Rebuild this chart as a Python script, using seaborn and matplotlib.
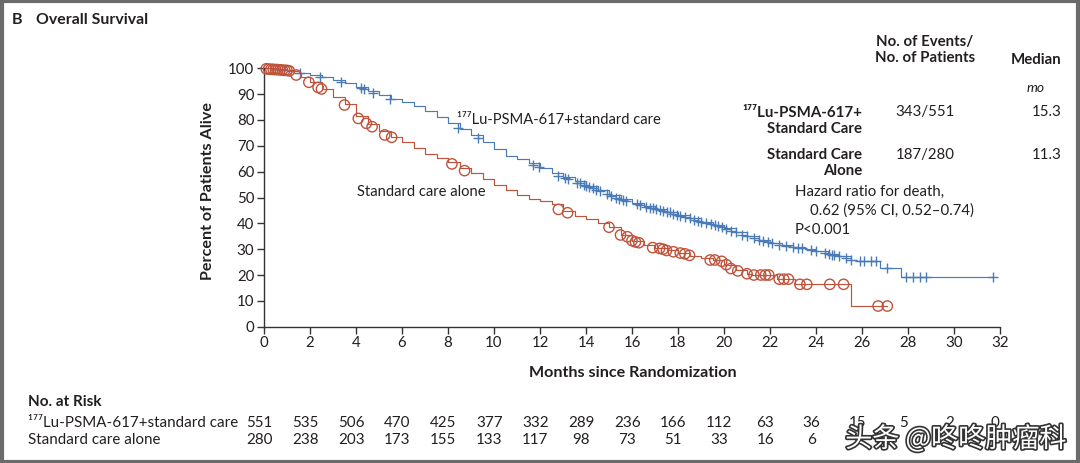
import numpy as np
import pandas as pd
import matplotlib
matplotlib.use("Agg")
import matplotlib.pyplot as plt
import matplotlib.transforms as mtransforms
import matplotlib.patheffects as pe
from matplotlib.patches import Rectangle
import seaborn as sns

# ---------------- data ----------------
lu_t = [0, 0.3, 0.6, 1.0, 1.5, 2.0, 2.5, 3.0, 3.5, 4.0, 4.5, 5.0, 5.5, 6.0, 6.5, 7.0, 7.5,
        8.0, 8.5, 9.0, 9.5, 10.0, 10.5, 11.0, 11.5, 12.0, 12.5, 13.0, 13.5, 14.0, 14.5, 15.0,
        15.5, 16.0, 16.5, 17.0, 17.5, 18.0, 18.5, 19.0, 19.5, 20.0, 20.5, 21.0, 21.5, 22.0,
        22.5, 23.0, 23.5, 24.0, 24.5, 25.0, 25.5, 25.8, 26.8, 27.7, 31.7]
lu_s = [100, 99.8, 99.5, 99.0, 98.2, 97.5, 96.6, 95.5, 94.3, 92.8, 91.3, 89.8, 88.2, 86.8, 85.4,
        83.6, 81.2, 78.8, 76.6, 74.3, 71.6, 68.8, 66.2, 65.0, 63.4, 61.5, 59.6, 57.8, 56.3, 54.5,
        52.8, 51.0, 49.4, 48.0, 46.6, 45.6, 44.5, 43.3, 42.0, 40.6, 39.5, 38.1, 36.6, 35.0, 33.7,
        32.4, 31.6, 30.9, 30.2, 29.4, 28.3, 27.2, 26.0, 25.6, 22.9, 19.4, 19.4]

sc_t = [0, 0.5, 1.0, 1.3, 1.6, 2.0, 2.5, 3.0, 3.5, 4.0, 4.5, 5.0, 5.5, 6.0, 6.5, 7.0, 7.5, 8.0,
        8.5, 9.0, 9.5, 10.0, 10.5, 11.0, 11.5, 12.0, 12.5, 13.0, 13.5, 14.0, 14.5, 15.0, 15.5,
        16.0, 16.5, 17.0, 17.5, 18.0, 18.5, 19.0, 19.5, 20.0, 20.5, 21.0, 21.2, 22.3, 23.1, 25.5, 27.1]
sc_s = [100, 99.6, 99.2, 98.3, 96.5, 94.6, 92.0, 88.8, 86.0, 81.5, 78.5, 75.8, 73.3, 71.4, 69.0,
        67.0, 65.3, 63.6, 61.5, 59.3, 57.0, 55.0, 53.0, 51.0, 49.6, 48.8, 47.5, 44.8, 42.8, 41.5,
        40.0, 38.5, 35.5, 33.2, 31.6, 30.5, 29.6, 28.6, 27.4, 26.6, 25.8, 24.0, 21.8, 20.5, 20.0,
        18.4, 16.4, 8.0, 8.0]

lu_cens_t = [1.55, 2.42, 3.36, 4.2, 4.35, 4.74, 5.46, 8.43, 9.3, 11.7, 11.95, 12.8, 13.1, 13.2,
             13.6, 13.75, 13.9, 14.0, 14.15, 14.3, 14.45, 14.6, 14.9, 15.1, 15.3, 15.45, 15.6,
             15.75, 16.2, 16.35, 16.6, 16.8, 16.9, 17.05, 17.2, 17.35, 17.5, 17.65, 17.8, 17.95,
             18.1, 18.3, 18.5, 18.7, 18.85, 19.0, 19.2, 19.45, 19.6, 19.75, 19.9, 20.1, 20.3,
             20.5, 20.8, 21.0, 21.3, 21.5, 21.7, 21.9, 22.1, 22.4, 22.7, 23.0, 23.2, 23.4, 23.8,
             24.0, 24.4, 24.55, 24.7, 24.8, 25.0, 25.3, 25.5, 25.9, 26.1, 26.4, 26.6, 27.1, 27.9,
             28.2, 28.5, 28.8, 31.7]
lu_cens_s = [98.1, 96.8, 94.6, 92.2, 91.9, 90.6, 88.0, 76.8, 72.9, 62.6, 61.7, 58.3, 57.4, 57.2,
             55.8, 55.5, 55.0, 54.5, 54.0, 53.6, 53.0, 52.6, 51.3, 50.6, 50.0, 49.4, 49.2, 48.6,
             47.4, 47.0, 46.4, 46.0, 45.8, 45.5, 45.2, 44.8, 44.5, 44.2, 43.8, 43.4, 43.0, 42.5,
             42.0, 41.4, 41.0, 40.6, 40.2, 39.6, 39.3, 38.8, 38.4, 37.8, 37.2, 36.6, 35.6, 35.0,
             34.2, 33.7, 33.2, 32.6, 32.2, 31.7, 31.3, 30.9, 30.6, 30.3, 29.7, 29.4, 28.5, 28.2,
             27.9, 27.7, 27.2, 26.5, 26.0, 25.6, 25.6, 25.6, 25.6, 22.9, 19.4, 19.4, 19.4, 19.4, 19.4]

sc_cens_t = [0.1, 0.2, 0.3, 0.4, 0.5, 0.6, 0.7, 0.8, 0.9, 1.0, 1.1, 1.4, 1.95, 2.35, 2.5, 3.5,
             4.1, 4.45, 4.7, 5.25, 5.55, 8.17, 8.72, 12.8, 13.2, 15.0, 15.5, 15.8, 16.0, 16.15,
             16.3, 16.9, 17.2, 17.35, 17.5, 17.8, 18.1, 18.3, 18.5, 19.4, 19.6, 19.9, 20.1, 20.3,
             20.6, 21.0, 21.3, 21.6, 21.8, 21.95, 22.4, 22.6, 22.8, 23.3, 23.6, 24.6, 25.2, 26.7, 27.1]
sc_cens_s = [99.8, 99.7, 99.6, 99.6, 99.5, 99.5, 99.4, 99.3, 99.2, 99.2, 99.0, 97.4, 94.6, 92.6,
             92.0, 85.8, 80.6, 78.7, 77.4, 74.2, 73.3, 63.0, 60.4, 45.4, 44.1, 38.5, 35.5, 34.8,
             33.3, 32.8, 32.5, 30.6, 30.3, 30.0, 29.5, 29.0, 28.5, 28.2, 27.6, 25.8, 25.8, 25.3,
             24.0, 22.5, 21.6, 20.5, 20.0, 20.0, 20.0, 20.0, 18.4, 18.4, 18.4, 16.4, 16.4, 16.4,
             16.4, 8.0, 8.0]

risk_months = [0, 2, 4, 6, 8, 10, 12, 14, 16, 18, 20, 22, 24, 26, 28, 30, 32]
risk_lu = [551, 535, 506, 470, 425, 377, 332, 289, 236, 166, 112, 63, 36, 15, 5, 2, 0]
risk_sc = [280, 238, 203, 173, 155, 133, 117, 98, 73, 51, 33, 16, 6]

x_ticks = list(range(0, 33, 2))
y_ticks = list(range(0, 101, 10))

# ---------------- style ----------------
sns.set_theme(style="white")
FONT = ["Lato", "DejaVu Sans"]
plt.rcParams["font.family"] = FONT
TXT = "#231f20"
BLUE = "#4a7bb7"
RED = "#c0533b"

W, H = 1080, 463
fig = plt.figure(figsize=(W / 100, H / 100), dpi=100)
fig.patch.set_facecolor("white")

def fx(px):
    return px / W

def fy(py):
    return 1 - py / H

ax = fig.add_axes([fx(264), fy(326.7), fx(1000) - fx(264), fy(68.3) - fy(326.7)])
ax.set_facecolor("white")

lu_df = pd.DataFrame({"t": lu_t, "s": lu_s})
sc_df = pd.DataFrame({"t": sc_t, "s": sc_s})
sns.lineplot(data=lu_df, x="t", y="s", ax=ax, color=BLUE, lw=0.85,
             drawstyle="steps-post", estimator=None, sort=False, clip_on=False)
sns.lineplot(data=sc_df, x="t", y="s", ax=ax, color=RED, lw=0.85,
             drawstyle="steps-post", estimator=None, sort=False, clip_on=False)

lu_c = pd.DataFrame({"t": lu_cens_t, "s": lu_cens_s})
sc_c = pd.DataFrame({"t": sc_cens_t, "s": sc_cens_s})
sns.scatterplot(data=lu_c, x="t", y="s", ax=ax, marker="+", s=55, color=BLUE,
                linewidth=1.0, clip_on=False, zorder=3)
sns.scatterplot(data=sc_c, x="t", y="s", ax=ax, marker="o", s=55, facecolors="none",
                edgecolor=RED, linewidth=1.0, clip_on=False, zorder=3)

ax.set_xlim(0, 32)
ax.set_ylim(0, 100)
ax.set_xticks(x_ticks)
ax.set_yticks(y_ticks)
ax.set_xticklabels([str(v) for v in x_ticks])
ax.set_yticklabels([str(v) for v in y_ticks])
for side in ["top", "right"]:
    ax.spines[side].set_visible(False)
for side in ["left", "bottom"]:
    ax.spines[side].set_color("#333333")
    ax.spines[side].set_linewidth(1.0)
ax.tick_params(axis="both", which="major", direction="out", length=5, width=1.0,
               color="#333333", labelsize=10.8, labelcolor=TXT, pad=2,
               left=True, bottom=True)
ax.set_xlabel("")
ax.set_ylabel("")
ax.grid(False)

fig.text(fx(633), fy(373), "Months since Randomization", ha="center", va="center",
         fontsize=11.6, fontweight="bold", color=TXT)
fig.text(fx(208), fy(191), "Percent of Patients Alive", ha="center", va="center",
         rotation=90, fontsize=11.6, fontweight="bold", color=TXT)

# title
fig.text(fx(12), fy(20), "B", ha="left", va="center", fontsize=11.5, fontweight="bold", color=TXT)
fig.text(fx(36), fy(20), "Overall Survival", ha="left", va="center", fontsize=11.4,
         fontweight="bold", color=TXT)

# curve labels
fig.text(fx(457), fy(120), "\u00b9\u2077\u2077Lu-PSMA-617+standard care", ha="left", va="center",
         fontsize=10.6, color=TXT)
fig.text(fx(357), fy(192), "Standard care alone", ha="left", va="center",
         fontsize=10.6, color=TXT)

# legend table
fig.text(fx(925), fy(50), "No. of Events/\nNo. of Patients", ha="center", va="center",
         fontsize=10.8, fontweight="bold", color=TXT, linespacing=1.15)
fig.text(fx(1036), fy(60), "Median", ha="center", va="center", fontsize=10.8,
         fontweight="bold", color=TXT)
fig.text(fx(1036), fy(88), "mo", ha="center", va="center", fontsize=10, style="italic",
         color=TXT)
fig.text(fx(862), fy(121), "\u00b9\u2077\u2077Lu-PSMA-617+\nStandard Care", ha="right",
         va="center", fontsize=10.8, fontweight="bold", color=TXT, linespacing=1.15,
         multialignment="right")
fig.text(fx(925), fy(112), "343/551", ha="center", va="center", fontsize=10.8, color=TXT)
fig.text(fx(1062), fy(112), "15.3", ha="right", va="center", fontsize=10.8, color=TXT)
fig.text(fx(862), fy(163), "Standard Care\nAlone", ha="right", va="center", fontsize=10.8,
         fontweight="bold", color=TXT, linespacing=1.15, multialignment="right")
fig.text(fx(925), fy(155), "187/280", ha="center", va="center", fontsize=10.8, color=TXT)
fig.text(fx(1062), fy(155), "11.3", ha="right", va="center", fontsize=10.8, color=TXT)
fig.text(fx(795), fy(192), "Hazard ratio for death,", ha="left", va="center",
         fontsize=10.8, color=TXT)
fig.text(fx(810), fy(211), "0.62 (95% CI, 0.52\u20130.74)", ha="left", va="center",
         fontsize=10.8, color=TXT)
fig.text(fx(795), fy(230), "P<0.001", ha="left", va="center", fontsize=10.8, color=TXT)

# number at risk
fig.text(fx(28), fy(402), "No. at Risk", ha="left", va="center", fontsize=11,
         fontweight="bold", color=TXT)
fig.text(fx(28), fy(423), "\u00b9\u2077\u2077Lu-PSMA-617+standard care", ha="left", va="center",
         fontsize=10.9, color=TXT)
fig.text(fx(28), fy(440), "Standard care alone", ha="left", va="center", fontsize=10.9, color=TXT)
blend = mtransforms.blended_transform_factory(ax.transData, fig.transFigure)
for m, n in zip(risk_months, risk_lu):
    ax.text(m - 0.2, fy(423), str(n), transform=blend, ha="center", va="center",
            fontsize=10.9, color=TXT, clip_on=False)
for m, n in zip(risk_months, risk_sc):
    ax.text(m - 0.2, fy(440), str(n), transform=blend, ha="center", va="center",
            fontsize=10.9, color=TXT, clip_on=False)

# watermark
wm = fig.text(fx(956), fy(439), "头条 @咚咚肿瘤科", ha="center", va="center", fontsize=19.5,
              color="white", family=["Noto Sans CJK SC", "DejaVu Sans"], zorder=10)
wm.set_path_effects([pe.withStroke(linewidth=2.4, foreground="#333333")])

# frame
fig.patches.append(Rectangle((0.0015, 0.003), 0.997, 0.994, transform=fig.transFigure,
                             fill=False, edgecolor="#6b6b6b", linewidth=3.0))

fig.savefig("out.png", dpi=100, facecolor="white")
